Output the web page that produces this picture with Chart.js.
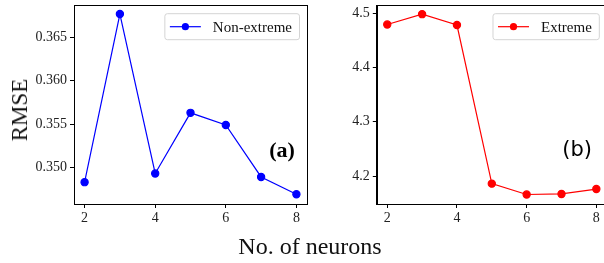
<!DOCTYPE html>
<html>
<head>
<meta charset="utf-8">
<script src="https://cdn.jsdelivr.net/npm/chart.js@4.4.0/dist/chart.umd.min.js"></script>
<style>
  html, body { margin: 0; padding: 0; background: #fff; overflow: hidden; }
  #wrap { position: relative; width: 604px; height: 263px; overflow: hidden; }
  canvas { position: absolute; top: 0; }
  .lbl { position: absolute; font-family: "Liberation Serif", serif; color: #111; white-space: nowrap; }
</style>
</head>
<body>
<div id="wrap">
  <canvas id="chartA" width="320" height="263" style="left:0;width:320px;height:263px"></canvas>
  <canvas id="chartB" width="292" height="263" style="left:320px;width:292px;height:263px"></canvas>
  <div class="lbl" id="ylab" style="font-size:23px;left:20px;top:110px;transform:translate(-50%,-50%) rotate(-90deg);">RMSE</div>
  <div class="lbl" id="xlab" style="font-size:24px;left:310px;top:246px;transform:translate(-50%,-50%);">No. of neurons</div>
</div>
<script>
// neurons on the x axis
var neurons = [2, 3, 4, 5, 6, 7, 8];
// RMSE values
var nonExtreme = [0.3483, 0.3677, 0.3493, 0.3563, 0.3549, 0.3489, 0.3469];
var extreme = [4.479, 4.498, 4.478, 4.186, 4.166, 4.167, 4.176];

var xTicks = [2, 4, 6, 8];
var yTicksA = [0.350, 0.355, 0.360, 0.365];
var yTicksB = [4.2, 4.3, 4.4, 4.5];

Chart.defaults.font.family = "'Liberation Serif', serif";
Chart.defaults.font.size = 14;
Chart.defaults.color = "#222";

function toPoints(ys){
  var pts = [];
  for(var i = 0; i < neurons.length; i++){
    pts.push({x: neurons[i], y: ys[i]});
  }
  return pts;
}

// frame around the plot, the tag (a)/(b) and a legend box inside the plot
var framePlugin = {
  id: "frame",
  afterDraw: function(chart, args, opts){
    var ctx = chart.ctx;
    var a = chart.chartArea;
    ctx.save();
    ctx.strokeStyle = "#000";
    ctx.lineWidth = 1;
    ctx.strokeRect(Math.round(a.left) + 0.5, Math.round(a.top) + 0.5,
      Math.round(a.right - a.left), Math.round(a.bottom - a.top));

    // tag
    ctx.fillStyle = "#000";
    ctx.font = opts.tagFont;
    ctx.textAlign = "center";
    ctx.textBaseline = "middle";
    ctx.fillText(opts.tag, a.left + (a.right - a.left) * opts.tagX, a.top + (a.bottom - a.top) * opts.tagY);

    // legend
    var ds = chart.data.datasets[0];
    ctx.font = "15px 'Liberation Serif', serif";
    var tw = ctx.measureText(ds.label).width;
    var w = 48.5 + tw + 7;
    var h = 26;
    var x0 = a.right - 8 - w;
    var y0 = a.top + 8;
    ctx.beginPath();
    ctx.roundRect(x0 + 0.5, y0 + 0.5, w, h, 2.5);
    ctx.fillStyle = "rgba(255,255,255,0.8)";
    ctx.fill();
    ctx.strokeStyle = "#d4d4d4";
    ctx.stroke();
    var cy = y0 + h / 2 + 0.5;
    ctx.strokeStyle = ds.borderColor;
    ctx.lineWidth = 1.2;
    ctx.beginPath();
    ctx.moveTo(x0 + 5.5, cy);
    ctx.lineTo(x0 + 36.5, cy);
    ctx.stroke();
    ctx.fillStyle = ds.pointBackgroundColor;
    ctx.beginPath();
    ctx.arc(x0 + 21, cy, 3.6, 0, Math.PI * 2);
    ctx.fill();
    ctx.fillStyle = "#111";
    ctx.textAlign = "left";
    ctx.fillText(ds.label, x0 + 48.5, cy + 1);
    ctx.restore();
  }
};

function makeChart(id, label, color, ys, yMin, yMax, yTicks, digits, yWidth, pad, tag, tagFont, tagX, tagY){
  return new Chart(document.getElementById(id), {
    type: "line",
    data: {
      datasets: [{
        label: label,
        data: toPoints(ys),
        borderColor: color,
        backgroundColor: color,
        pointBackgroundColor: color,
        pointBorderColor: color,
        borderWidth: 1.2,
        pointRadius: 3.6,
        tension: 0
      }]
    },
    options: {
      responsive: false,
      animation: false,
      layout: { padding: pad },
      plugins: {
        legend: { display: false },
        tooltip: { enabled: false },
        frame: { tag: tag, tagFont: tagFont, tagX: tagX, tagY: tagY }
      },
      scales: {
        x: {
          type: "linear",
          min: 1.7,
          max: 8.3,
          afterBuildTicks: function(s){ s.ticks = xTicks.map(function(v){ return {value: v}; }); },
          afterFit: function(s){ s.height = 59; s.paddingLeft = 0; s.paddingRight = 0; },
          grid: { drawOnChartArea: false, drawTicks: true, tickLength: 4, color: "#000", lineWidth: 1 },
          border: { display: true, color: "#000", width: 1 },
          ticks: { padding: 2, maxRotation: 0, callback: function(v){ return v; } }
        },
        y: {
          min: yMin,
          max: yMax,
          afterBuildTicks: function(s){ s.ticks = yTicks.map(function(v){ return {value: v}; }); },
          afterFit: function(s){ s.width = yWidth; s.paddingTop = 0; s.paddingBottom = 0; },
          grid: { drawOnChartArea: false, drawTicks: true, tickLength: 4, color: "#000", lineWidth: 1 },
          border: { display: true, color: "#000", width: 1 },
          ticks: { padding: 3, callback: function(v){ return v.toFixed(digits); } }
        }
      }
    },
    plugins: [framePlugin]
  });
}

makeChart("chartA", "Non-extreme", "#0000ff", nonExtreme, 0.34578, 0.36872, yTicksA, 3, 74,
  {top: 2, right: 13, bottom: 0, left: 0}, "(a)", "bold 22px 'Liberation Serif', serif", 0.893, 0.733);
makeChart("chartB", "Extreme", "#ff0000", extreme, 4.1485, 4.5145, yTicksB, 1, 56.8,
  {top: 2.7, right: 4, bottom: 0, left: 0}, "(b)", "21px 'DejaVu Sans', sans-serif", 0.871, 0.732);
</script>
</body>
</html>
